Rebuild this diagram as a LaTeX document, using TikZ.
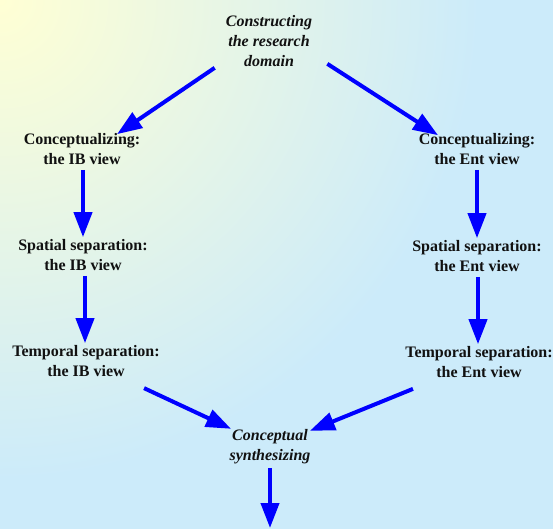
\documentclass[tikz,border=0pt]{standalone}
\usepackage{fontspec}
\setmainfont{Liberation Serif}
\usetikzlibrary{arrows.meta}
\definecolor{bgyellow}{RGB}{255,255,212}
\definecolor{bgblue}{RGB}{204,235,250}
\definecolor{txt}{RGB}{17,17,17}
\pgfdeclareradialshading{bgsh}{\pgfpoint{0bp}{0bp}}{color(0bp)=(bgyellow); color(15bp)=(bgblue); color(50bp)=(bgblue)}
\tikzset{
  lbl/.style={align=center, inner sep=2pt, text=txt, font=\fontsize{16}{20}\selectfont\bfseries},
  ilbl/.style={lbl, font=\fontsize{16}{20}\selectfont\bfseries\itshape},
  arr/.style={draw=blue, line width=4pt, -{Triangle[length=25pt,width=18pt]}}
}
\begin{document}
\begin{tikzpicture}[x=1pt,y=-1pt]
\useasboundingbox (0,0) rectangle (553,528);
\begin{scope}
\clip (0,0) rectangle (553,528);
\fill[bgblue] (0,0) rectangle (553,528);
\shade[shading=bgsh] (0,0) circle (800pt);
\end{scope}
\node[ilbl] (top) at (269,41) {Constructing\\the research\\domain};
\node[lbl] (lc) at (82,149) {Conceptualizing:\\the IB view};
\node[lbl] (rc) at (477,149) {Conceptualizing:\\the Ent view};
\node[lbl] (ls) at (83,255) {Spatial separation:\\the IB view};
\node[lbl] (rs) at (477,256) {Spatial separation:\\the Ent view};
\node[lbl] (lt) at (86,361) {Temporal separation:\\the IB view};
\node[lbl] (rt) at (479,362) {Temporal separation:\\the Ent view};
\node[ilbl] (syn) at (270,447) {Conceptual\\synthesizing};
\coordinate (out) at (270,528);
\draw[arr] ([shift={(-9,-1)}]top.south west) -- ([shift={(35,3)}]lc.north);
\draw[arr] ([shift={(13,-5)}]top.south east) -- ([shift={(-39,4)}]rc.north);
\draw[arr, shorten <=3pt] (ls.north |- lc.south) -- (ls.north);
\draw[arr, shorten <=3pt] (rs.north |- rc.south) -- (rs.north);
\draw[arr, shorten <=3pt] ([xshift=2pt]ls.south) -- ([xshift=2pt]ls.south |- lt.north);
\draw[arr, shorten <=3pt] ([xshift=1pt]rs.south) -- ([xshift=1pt]rs.south |- rt.north);
\draw[arr, shorten <=22pt, shorten >=-3pt] (lt) -- (syn);
\draw[arr, shorten <=24pt, shorten >=-3pt] (rt) -- (syn);
\draw[arr, shorten <=2pt] (syn.south) -- (out);
\end{tikzpicture}
\end{document}
